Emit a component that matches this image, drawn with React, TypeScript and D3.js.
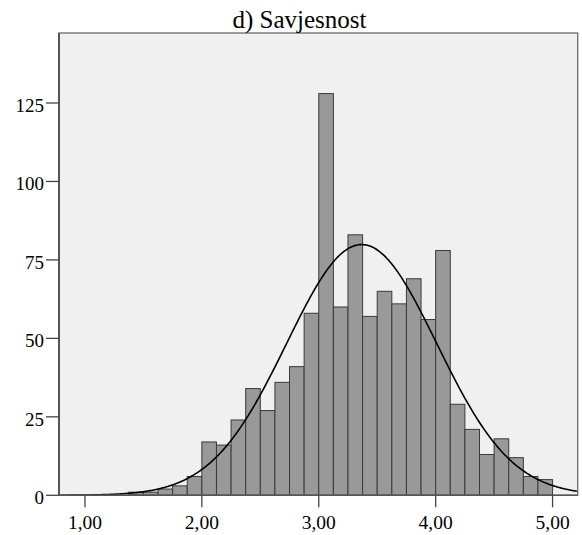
import { useMemo } from "react";
import * as d3 from "d3";

// histogram bins (lower edge) and frequencies
const binLower = [
  1.375, 1.5, 1.625, 1.75, 1.875, 2.0, 2.125, 2.25, 2.375, 2.5, 2.625, 2.75, 2.875, 3.0, 3.125,
  3.25, 3.375, 3.5, 3.625, 3.75, 3.875, 4.0, 4.125, 4.25, 4.375, 4.5, 4.625, 4.75, 4.875,
];
const counts = [
  1, 1, 2, 3, 6, 17, 16, 24, 34, 27, 36, 41, 58, 128, 60, 83, 57, 65, 61, 69, 56, 78, 29, 21, 13,
  18, 12, 6, 5,
];
const binWidth = 0.125;
const xTicks = [1, 2, 3, 4, 5];
const yTicks = [0, 25, 50, 75, 100, 125];
const title = "d) Savjesnost";
// normal fit
const curveMean = 3.367;
const curveSd = 0.641;

const W = 582;
const H = 535;
const m = { left: 59, top: 33, right: 4.3, bottom: 39.7 };
const serif = { fontFamily: "Liberation Serif" };

export default function App() {
  const x = d3.scaleLinear().domain([0.778, 5.215]).range([m.left, W - m.right]);
  const y = d3.scaleLinear().domain([0, 147.3]).range([H - m.bottom, m.top]);

  const curve = useMemo(() => {
    const n = d3.sum(counts);
    const pts = d3.range(0.778, 5.2151, 0.01).map((v) => {
      const z = (v - curveMean) / curveSd;
      const d = (n * binWidth * Math.exp(-0.5 * z * z)) / (curveSd * Math.sqrt(2 * Math.PI));
      return [v, d] as [number, number];
    });
    return d3
      .line<[number, number]>()
      .x((d) => x(d[0]))
      .y((d) => y(d[1]))
      .curve(d3.curveBasis)(pts);
  }, []);

  const x0 = m.left;
  const x1 = W - m.right;
  const y0 = H - m.bottom;
  const y1 = m.top;

  return (
    <svg
      width={W}
      height={H}
      style={{ position: "absolute", left: 0, top: 0, background: "#fff", ...serif }}
    >
      <rect x={x0} y={y1} width={x1 - x0} height={y0 - y1} fill="#f0f0f0" />
      <g>
        {binLower.map((b, i) => (
          <rect
            key={i}
            x={x(b)}
            y={y(counts[i])}
            width={x(b + binWidth) - x(b)}
            height={y(0) - y(counts[i])}
            fill="#999999"
            stroke="#3a3a3a"
            strokeWidth={1}
          />
        ))}
      </g>
      <defs>
        <clipPath id="plotclip">
          <rect x={x0} y={y1} width={x1 - x0} height={y0 - y1} />
        </clipPath>
      </defs>
      <path d={curve ?? ""} fill="none" stroke="#000" strokeWidth={1.6} clipPath="url(#plotclip)" />
      <rect
        x={x0}
        y={y1}
        width={x1 - x0}
        height={y0 - y1}
        fill="none"
        stroke="#6a6a6a"
        strokeWidth={1.3}
      />
      <line x1={x0} x2={x0} y1={y1} y2={y0} stroke="#555" strokeWidth={2} />
      <line x1={x0} x2={x1} y1={y0} y2={y0} stroke="#555" strokeWidth={1.5} />
      {yTicks.map((t) => (
        <g key={t}>
          <line x1={x0 - 13} x2={x0} y1={y(t)} y2={y(t)} stroke="#444" strokeWidth={1.3} />
          <text x={x0 - 15} y={y(t) + 9} textAnchor="end" fontSize={19} fill="#000" style={serif}>
            {t}
          </text>
        </g>
      ))}
      {xTicks.map((t) => (
        <g key={t}>
          <line x1={x(t)} x2={x(t)} y1={y0} y2={y0 + 12} stroke="#444" strokeWidth={1.3} />
          <text x={x(t)} y={529} textAnchor="middle" fontSize={19.5} fill="#000" style={serif}>
            {d3.format(".2f")(t).replace(".", ",")}
          </text>
        </g>
      ))}
      <text x={299.5} y={27.5} textAnchor="middle" fontSize={25} fill="#000" style={serif}>
        {title}
      </text>
    </svg>
  );
}
